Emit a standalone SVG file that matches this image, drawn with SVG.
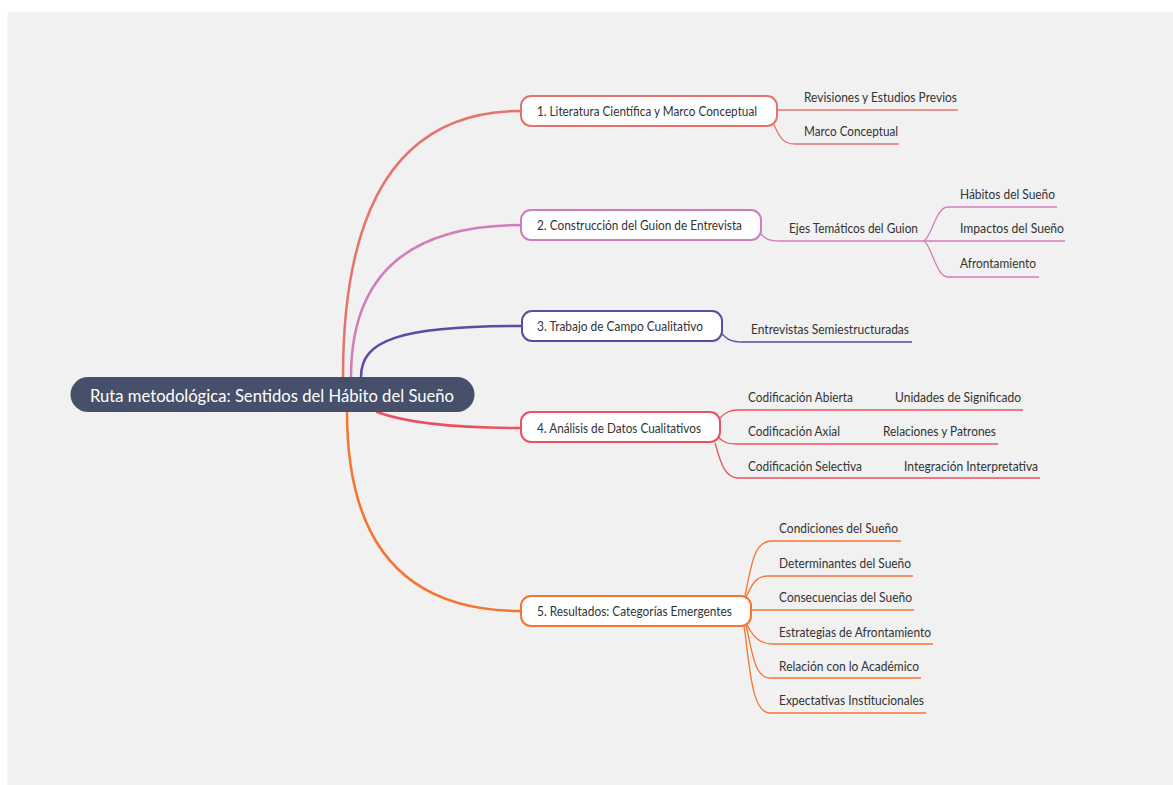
<svg xmlns="http://www.w3.org/2000/svg" width="1173" height="785" viewBox="0 0 1173 785">
<style>
text{font-family:Lato,"Liberation Sans",sans-serif;dominant-baseline:central;}
.root text{fill:#ffffff;font-size:18px;}
.node text,.leaf{fill:#333333;font-size:13.5px;}
.node rect{fill:#ffffff;stroke-width:2;}
.main{fill:none;stroke-width:2.5;stroke-linecap:round;}
.sub{fill:none;stroke-width:1.3;}
.c1{stroke:#e4736e;} .c2{stroke:#d27cbc;} .c3{stroke:#5a4ba5;} .c4{stroke:#ec5060;} .c5{stroke:#f6742f;}
</style>
<rect x="7.5" y="12" width="1166" height="773" fill="#f0f1f0"/>
<g id="connectors">
<path class="main c1" d="M343,377 Q343,111 521,111"/>
<path class="main c2" d="M351,377 Q351,225 521,225"/>
<path class="main c3" d="M361,377 C361,340 400,326 521,326"/>
<path class="main c4" d="M377,412 Q420,428 521,428"/>
<path class="main c5" d="M347,412 Q347,611 521,611"/>
<path class="sub c1" d="M777,110 H958"/>
<path class="sub c1" d="M773,123 C780,138 783,144 795,144 H899"/>
<path class="sub c2" d="M760,233 C766,240 770,241 780,241 H924"/>
<path class="sub c2" d="M924,241 C932,236 936,207 948,207 H1057"/>
<path class="sub c2" d="M924,241 H1065"/>
<path class="sub c2" d="M924,241 C932,246 936,277 948,277 H1039"/>
<path class="sub c3" d="M721,333 C728,340 732,342 742,342 H912"/>
<path class="sub c4" d="M720,418 C726,412 730,410 738,410 H1023"/>
<path class="sub c4" d="M718,437 C724,443 728,444 738,444 H998"/>
<path class="sub c4" d="M715,443 C720,460 724,478 738,478 H1040"/>
<path class="sub c5" d="M745,596 C752,560 755,541 772,541 H901"/>
<path class="sub c5" d="M746,597 C752,585 755,576 768,576 H913"/>
<path class="sub c5" d="M752,610 H914"/>
<path class="sub c5" d="M746,623 C752,635 758,644 773,644 H933"/>
<path class="sub c5" d="M746,625 C752,650 754,678 770,678 H921"/>
<path class="sub c5" d="M744,625 C750,670 752,713 770,713 H926"/>
</g>
<g id="root" class="root">
<rect x="70.5" y="377" width="404" height="35" rx="17.5" fill="#46506a"/>
<text x="90" y="395" textLength="364" lengthAdjust="spacingAndGlyphs">Ruta metodológica: Sentidos del Hábito del Sueño</text>
</g>
<g id="n1" class="node">
<rect x="521" y="96" width="256" height="30" rx="10" stroke="#e4736e"/>
<text x="537" y="111" textLength="220" lengthAdjust="spacingAndGlyphs">1. Literatura Científica y Marco Conceptual</text>
</g>
<g id="n2" class="node">
<rect x="521" y="210" width="240" height="30" rx="10" stroke="#d27cbc"/>
<text x="537" y="225" textLength="205" lengthAdjust="spacingAndGlyphs">2. Construcción del Guion de Entrevista</text>
</g>
<g id="n3" class="node">
<rect x="522" y="311" width="200" height="30" rx="10" stroke="#5a4ba5"/>
<text x="537" y="326" textLength="166" lengthAdjust="spacingAndGlyphs">3. Trabajo de Campo Cualitativo</text>
</g>
<g id="n4" class="node">
<rect x="521" y="412" width="199" height="30" rx="10" stroke="#ec5060"/>
<text x="537" y="428" textLength="164" lengthAdjust="spacingAndGlyphs">4. Análisis de Datos Cualitativos</text>
</g>
<g id="n5" class="node">
<rect x="521" y="596" width="230" height="30" rx="10" stroke="#f6742f"/>
<text x="537" y="611" textLength="195" lengthAdjust="spacingAndGlyphs">5. Resultados: Categorías Emergentes</text>
</g>
<g id="l1a"><text class="leaf" x="804" y="97" textLength="153" lengthAdjust="spacingAndGlyphs">Revisiones y Estudios Previos</text></g>
<g id="l1b"><text class="leaf" x="804" y="131" textLength="94" lengthAdjust="spacingAndGlyphs">Marco Conceptual</text></g>
<g id="l2"><text class="leaf" x="789" y="228" textLength="129" lengthAdjust="spacingAndGlyphs">Ejes Temáticos del Guion</text></g>
<g id="l2a"><text class="leaf" x="960" y="194" textLength="95" lengthAdjust="spacingAndGlyphs">Hábitos del Sueño</text></g>
<g id="l2b"><text class="leaf" x="960" y="228" textLength="104" lengthAdjust="spacingAndGlyphs">Impactos del Sueño</text></g>
<g id="l2c"><text class="leaf" x="960" y="263" textLength="76" lengthAdjust="spacingAndGlyphs">Afrontamiento</text></g>
<g id="l3"><text class="leaf" x="751" y="329" textLength="158" lengthAdjust="spacingAndGlyphs">Entrevistas Semiestructuradas</text></g>
<g id="l4a"><text class="leaf" x="748" y="397" textLength="105" lengthAdjust="spacingAndGlyphs">Codificación Abierta</text></g>
<g id="l4a1"><text class="leaf" x="895" y="397" textLength="126" lengthAdjust="spacingAndGlyphs">Unidades de Significado</text></g>
<g id="l4b"><text class="leaf" x="748" y="431" textLength="92" lengthAdjust="spacingAndGlyphs">Codificación Axial</text></g>
<g id="l4b1"><text class="leaf" x="883" y="431" textLength="113" lengthAdjust="spacingAndGlyphs">Relaciones y Patrones</text></g>
<g id="l4c"><text class="leaf" x="748" y="466" textLength="114" lengthAdjust="spacingAndGlyphs">Codificación Selectiva</text></g>
<g id="l4c1"><text class="leaf" x="904" y="466" textLength="134" lengthAdjust="spacingAndGlyphs">Integración Interpretativa</text></g>
<g id="l5a"><text class="leaf" x="779" y="528" textLength="119" lengthAdjust="spacingAndGlyphs">Condiciones del Sueño</text></g>
<g id="l5b"><text class="leaf" x="779" y="563" textLength="132" lengthAdjust="spacingAndGlyphs">Determinantes del Sueño</text></g>
<g id="l5c"><text class="leaf" x="779" y="597" textLength="133" lengthAdjust="spacingAndGlyphs">Consecuencias del Sueño</text></g>
<g id="l5d"><text class="leaf" x="779" y="632" textLength="152" lengthAdjust="spacingAndGlyphs">Estrategias de Afrontamiento</text></g>
<g id="l5e"><text class="leaf" x="779" y="666" textLength="140" lengthAdjust="spacingAndGlyphs">Relación con lo Académico</text></g>
<g id="l5f"><text class="leaf" x="779" y="700" textLength="145" lengthAdjust="spacingAndGlyphs">Expectativas Institucionales</text></g>
</svg>
